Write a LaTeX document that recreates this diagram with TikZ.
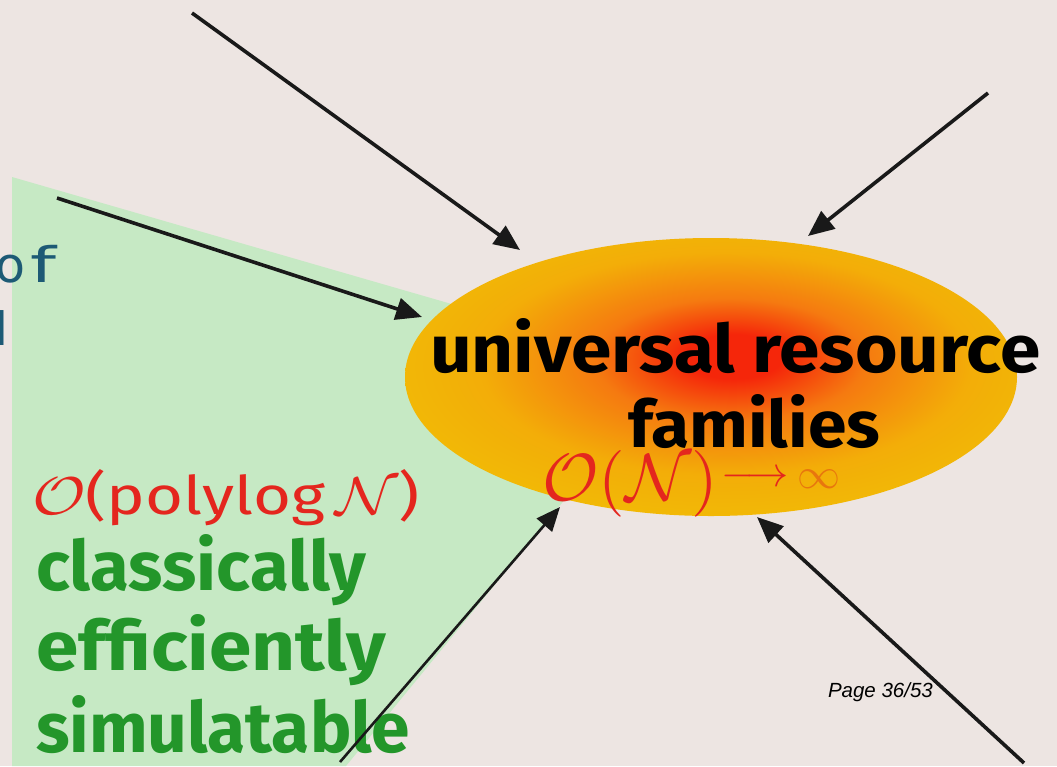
\documentclass[tikz,border=0pt]{standalone}
\usepackage{fontspec}
\usepackage{graphicx}
\setmainfont{Fira Sans}
\newfontfamily\pagefont{Liberation Sans}
\newfontfamily\offont{DejaVu Sans}
\usetikzlibrary{arrows.meta,shapes.geometric}
\definecolor{bg}{HTML}{EDE5E2}
\definecolor{greenreg}{HTML}{C6E9C4}
\definecolor{eyel}{HTML}{F2BA06}
\definecolor{eorange}{HTML}{F57A10}
\definecolor{ered}{HTML}{F5260A}
\definecolor{txtred}{HTML}{E4261E}
\definecolor{txtgreen}{HTML}{23962A}
\definecolor{inforange}{HTML}{E8760E}
\definecolor{ofblue}{HTML}{1D5A75}
\pgfdeclareradialshading{ellshade}{\pgfpoint{2bp}{4bp}}{color(0bp)=(ered); color(4bp)=(ered); color(11bp)=(eorange); color(20bp)=(eyel!80!eorange); color(28bp)=(eyel); color(50bp)=(eyel)}
\tikzset{
  arr/.style={line width=3.6pt, draw=black!90, -{Triangle[length=26pt,width=22pt]}},
  thinarr/.style={line width=2.6pt, draw=black!90, -{Triangle[length=24pt,width=20pt]}},
  txt/.style={inner sep=0pt, outer sep=0pt},
}
\begin{document}
\begin{tikzpicture}[x=1pt,y=-1pt]
\clip (0,0) rectangle (1057,766);
\fill[bg] (0,0) rectangle (1057,766);
% green region
\fill[greenreg] (12,177) -- (500,318) -- (566,498) -- (346,766) -- (12,766) -- cycle;
% ellipse
\node[ellipse, shade, shading=ellshade, minimum width=612pt, minimum height=278pt, inner sep=0pt] (U) at (711,377) {};
% left cut text
\node[txt, anchor=base east, text=ofblue] (of) at (56,282) {\offont\fontsize{49}{52}\selectfont o\kern5pt\scalebox{1.5}[1]{f}};
\node[txt, anchor=base west, text=ofblue] (ell) at (-5,345) {\offont\fontsize{46}{50}\selectfont l};
% main text
\node[txt, anchor=base west] (t1) at (430,372) {\resizebox{610pt}{54pt}{\bfseries universal resource}};
\node[txt, anchor=base west] (t2) at (628,447) {\resizebox{252pt}{53pt}{\bfseries families}};
\node[txt, anchor=base west, text=txtred] (on) at (542,500) {\resizebox{176pt}{50pt}{$\mathcal{O}(\mathcal{N})$}};
\node[txt, anchor=west, text=txtred] (toarr) at (721,479) {\resizebox{68pt}{!}{$\longrightarrow$}};
\node[txt, anchor=west, text=inforange] (inf) at (797,479) {\resizebox{43pt}{!}{$\infty$}};
\node[txt, anchor=base west, text=txtred] (poly) at (32,514) {\resizebox{388pt}{45pt}{$\mathcal{O}$(polylog\,$\mathcal{N}$)}};
\node[txt, anchor=base west, text=txtgreen] (g1) at (36,590) {\resizebox{330pt}{56pt}{\bfseries classically}};
\node[txt, anchor=base west, text=txtgreen] (g2) at (36,670) {\resizebox{350pt}{56pt}{\bfseries efficiently}};
\node[txt, anchor=base west, text=txtgreen] (g3) at (36,752) {\resizebox{374pt}{57pt}{\bfseries simulatable}};
\node[txt, anchor=base west] (page) at (828,697) {\pagefont\itshape\fontsize{20.5}{24}\selectfont Page 36/53};
% arrow endpoints
\coordinate (s1) at (192,13);  \coordinate (e1) at (520,250);
\coordinate (s2) at (988,93);  \coordinate (e2) at (808,236);
\coordinate (s3) at (57,198);  \coordinate (e3) at (422,317);
\coordinate (s4) at (340,762); \coordinate (e4) at (560,507);
\coordinate (s5) at (1024,763); \coordinate (e5) at (757,517);
\draw[arr] (s1) -- (e1);
\draw[arr] (s2) -- (e2);
\draw[arr] (s3) -- (e3);
\draw[thinarr] (s4) -- (e4);
\draw[arr] (s5) -- (e5);
\end{tikzpicture}
\end{document}
